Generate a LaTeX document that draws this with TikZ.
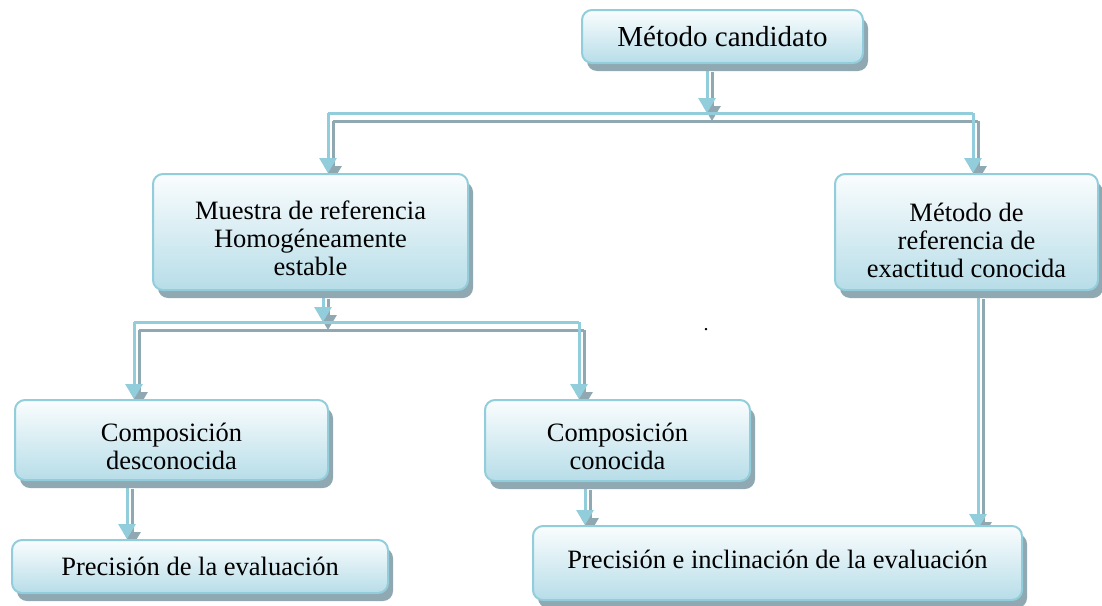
\documentclass[tikz,border=0pt]{standalone}
\usepackage{fontspec}
\setmainfont{Liberation Serif}
\usetikzlibrary{arrows.meta,shadows}
\definecolor{lineblue}{HTML}{92CDDC}
\definecolor{shadegray}{HTML}{8FA8B1}
\definecolor{fillbot}{HTML}{B7DDE8}
\definecolor{filltop}{HTML}{FAFDFE}
\pgfdeclarelayer{bg}
\pgfsetlayers{bg,main}
\tikzset{
  box/.style={draw=lineblue, line width=2pt, rounded corners=10pt,
    top color=filltop, bottom color=fillbot, align=center,
    inner sep=0pt, font=\fontsize{26.5}{28}\selectfont,
    drop shadow={shadow xshift=5pt, shadow yshift=-8pt, fill=shadegray, opacity=1}},
  conn/.style={draw=lineblue, line width=3pt},
  connsh/.style={draw=shadegray, line width=3pt, transform canvas={shift={(5pt,-8pt)}}},
  tip/.style={-{Triangle[width=17pt,length=15pt]}},
}
\newcommand\dline[2][]{%
  \draw[connsh,#1] #2;
  \draw[conn,#1] #2;}
\newcommand\lns[2][16pt]{\raisebox{-#1}[0pt][0pt]{\begin{tabular}{@{}c@{}}#2\end{tabular}}}
\begin{document}
\begin{tikzpicture}[x=1pt,y=-1pt]
\useasboundingbox (0,0) rectangle (1102,605);
% boxes
\node[box, minimum width=281pt, minimum height=53pt, font=\fontsize{29}{33}\selectfont] (mc) at (722.5,36.5) {Método candidato};
\node[box, minimum width=315pt, minimum height=116pt] (mr) at (310.5,232) {\lns{Muestra de referencia\\Homogéneamente\\estable}};
\node[box, minimum width=263pt, minimum height=116pt] (mref) at (966.5,232) {\lns[18pt]{Método de\\referencia de\\exactitud conocida}};
\node[box, minimum width=313pt, minimum height=80pt] (cd) at (171.5,440) {\lns{Composición\\desconocida}};
\node[box, minimum width=265pt, minimum height=81pt] (cc) at (617.5,440.5) {\lns{Composición\\conocida}};
\node[box, minimum width=376pt, minimum height=53pt] (pe) at (200,566.5) {Precisión de la evaluación};
\node[box, minimum width=489pt, minimum height=74pt, text depth=0pt] (pi) at (777.5,563) {\raisebox{8pt}{Precisión e inclinación de la evaluación}};
\node[font=\fontsize{20}{24}\selectfont, inner sep=0pt] (dot) at (706,330) {.};
% bus coordinates
\coordinate (b1) at (707,113);
\coordinate (b1l) at (328,113);
\coordinate (b1r) at (973,113);
\coordinate (b2) at (323,322);
\coordinate (b2l) at (134,322);
\coordinate (b2r) at (579,322);
\begin{pgfonlayer}{bg}
\dline[tip]{(mc.south -| b1) -- (b1)}
\dline{(b1l) -- (b1r)}
\dline[tip]{(b1l) -- (mr.north -| b1l)}
\dline[tip]{(b1r) -- (mref.north -| b1r)}
\dline[tip]{(mr.south -| b2) -- (b2)}
\dline{(b2l) -- (b2r)}
\dline[tip]{(b2l) -- (cd.north -| b2l)}
\dline[tip]{(b2r) -- (cc.north -| b2r)}
\coordinate (c1) at (127,0);
\coordinate (c2) at (585,0);
\coordinate (c3) at (978,0);
\dline[tip]{(cd.south -| c1) -- (pe.north -| c1)}
\dline[tip]{(cc.south -| c2) -- (pi.north -| c2)}
\dline[tip]{(mref.south -| c3) -- ([yshift=-4pt]pi.north -| c3)}
\end{pgfonlayer}
\end{tikzpicture}
\end{document}
